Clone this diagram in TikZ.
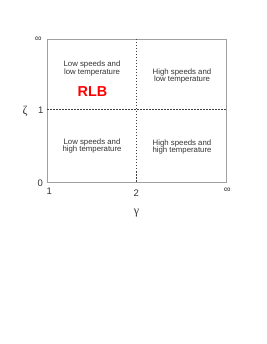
\documentclass[tikz,border=0pt]{standalone}
\usepackage{fontspec}
\setmainfont{Liberation Sans}
\newfontfamily\greekfont{Liberation Serif}
\usetikzlibrary{positioning}
\definecolor{frame}{HTML}{A0A0A0}
\definecolor{txt}{HTML}{333333}
\definecolor{rlb}{HTML}{FF0000}

\begin{document}
\begin{tikzpicture}[x=1pt,y=-1pt,font=\fontsize{7.8}{7.8}\selectfont,
  region/.style={align=center,text=txt,inner sep=0pt},
  tick/.style={font=\fontsize{9.5}{10}\selectfont,text=txt,inner sep=0pt},
  greek/.style={font=\greekfont\fontsize{12}{12}\selectfont,text=txt,inner sep=0pt},
  border/.style={draw=frame,line width=0.8pt},
  split/.style={draw=black!75,line width=0.8pt,dash pattern=on 1.5pt off 1.5pt}]
  \useasboundingbox (0,0) rectangle (266,344);
  % frame and the two dividing lines
  \coordinate (nw) at (47.3,39);
  \coordinate (se) at (226.3,182.7);
  \coordinate (top) at (136.7,39);
  \coordinate (bot) at (136.7,182.7);
  \coordinate (lft) at (47.3,109.7);
  \coordinate (rgt) at (226.3,109.7);
  \draw[border] (nw) rectangle (se);
  \draw[split] (top) -- (bot);
  \draw[split] (lft) -- (rgt);
  % the four regions
  \node[region] (lowlow) at (92,68.5) {Low speeds and\\low temperature};
  \node[region] (highlow) at (182,76) {High speeds and\\low temperature};
  \node[region] (lowhigh) at (92,146) {Low speeds and\\high temperature};
  \node[region] (highhigh) at (182,147) {High speeds and\\high temperature};
  \node[font=\bfseries\fontsize{14.4}{14.4}\selectfont,text=rlb,inner sep=0pt]
    (rlb) at (92.5,91.7) {RLB};
  % axis ticks
  \node[tick] (zinf) at (38.3,39) {∞};
  \node[tick] (zone) at (40.7,110) {1};
  \node[tick] (zzero) at (40.2,183.3) {0};
  \node[tick] (gone) at (49.3,191.7) {1};
  \node[tick] (gtwo) at (136.3,193) {2};
  \node[tick] (ginf) at (227.3,190.7) {∞};
  \node[greek] (zeta) at (25,111) {ζ};
  \node[greek] (gamma) at (136.5,213.5) {γ};
\end{tikzpicture}
\end{document}
